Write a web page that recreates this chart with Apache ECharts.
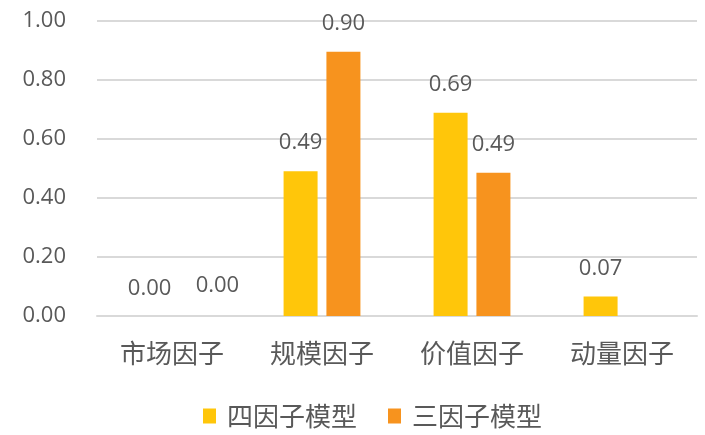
<!DOCTYPE html>
<html><head><meta charset="utf-8">
<script src="https://cdn.jsdelivr.net/npm/echarts@6/dist/echarts.min.js"></script>
<style>html,body{margin:0;padding:0;background:#fff}#c{width:705px;height:435px}</style>
</head><body><div id="c"></div>
<script>
const categories = ['市场因子', '规模因子', '价值因子', '动量因子'];
const seriesNames = ['四因子模型', '三因子模型'];
const fourFactor = [0.00, 0.491, 0.689, 0.066];
const threeFactor = [0.00, 0.896, 0.486, null];
const yTicks = [0, 0.2, 0.4, 0.6, 0.8, 1.0];

const numFont = '"Open Sans", "Noto Sans", sans-serif';
const cjkFont = '"Noto Sans CJK SC", sans-serif';
const txt = '#595959';

function mk(vals, si) {
  return vals.map((v, i) => {
    if (v === 0 && si === 1) return { value: v, label: { offset: [24, -2] } };
    if (v === 0 && si === 0) return { value: v, label: { offset: [-1, 1] } };
    return v;
  });
}

const chart = echarts.init(document.getElementById('c'), null, { renderer: 'canvas' });
chart.setOption({
  animation: false,
  grid: { left: 97, right: 8, top: 21, bottom: 119 },
  legend: {
    left: 198, top: 398,
    itemWidth: 13, itemHeight: 15, itemGap: 31,
    icon: 'rect',
    textStyle: { fontFamily: cjkFont, fontSize: 26, color: txt, padding: [0, 0, 0, 6] },
    data: seriesNames
  },
  xAxis: {
    type: 'category', data: categories,
    axisLine: { lineStyle: { color: '#d9d9d9', width: 2 } },
    axisTick: { show: false },
    axisLabel: { fontFamily: cjkFont, fontSize: 26, color: txt, margin: 24 }
  },
  yAxis: {
    type: 'value', min: 0, max: 1, interval: 0.2,
    axisLine: { show: false }, axisTick: { show: false },
    splitLine: { lineStyle: { color: '#d9d9d9', width: 2 } },
    axisLabel: { fontFamily: numFont, fontSize: 22, color: txt, margin: 31,
      formatter: v => v.toFixed(2) }
  },
  series: [
    { name: seriesNames[0], type: 'bar', data: mk(fourFactor, 0), barWidth: 34, barGap: '26%',
      itemStyle: { color: '#FFC60A' },
      label: { show: true, position: 'top', distance: 17, fontFamily: numFont, fontSize: 22, color: txt,
        formatter: p => p.value == null ? '' : p.value.toFixed(2) } },
    { name: seriesNames[1], type: 'bar', data: mk(threeFactor, 1), barWidth: 34,
      itemStyle: { color: '#F7931E' },
      label: { show: true, position: 'top', distance: 17, fontFamily: numFont, fontSize: 22, color: txt,
        formatter: p => p.value == null ? '' : p.value.toFixed(2) } }
  ]
});
</script></body></html>
